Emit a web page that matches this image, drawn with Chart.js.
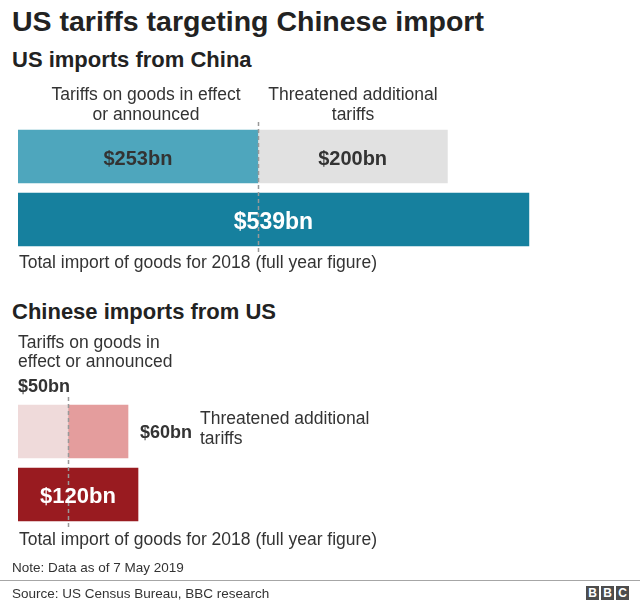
<!DOCTYPE html>
<html><head><meta charset="utf-8">
<script src="https://cdn.jsdelivr.net/npm/chart.js@4.4.1/dist/chart.umd.min.js"></script>
<style>
html,body{margin:0;padding:0;background:#fff;}
body{width:640px;height:607px;position:relative;overflow:hidden;font-family:'Liberation Sans',Arial,Helvetica,sans-serif;color:#333;}
.t{position:absolute;white-space:nowrap;line-height:1;z-index:2;}
canvas{position:absolute;left:0;z-index:1;}
.title{left:12px;top:7px;font-size:28.5px;font-weight:bold;color:#222;}
.sub{left:12px;font-size:22px;font-weight:bold;color:#222;}
.ann{font-size:17.5px;color:#333;}
.val{font-size:18px;font-weight:bold;color:#333;}
.small{font-size:13.5px;color:#333;left:12px;}
.rule{position:absolute;left:0;top:580px;width:640px;height:1px;background:#a6a6a6;}
.bbc{position:absolute;top:586px;width:13px;height:14px;background:#4d4d4d;color:#fff;font-weight:bold;font-size:12px;line-height:14px;text-align:center;}
</style></head>
<body>
<div class="t title">US tariffs targeting Chinese import</div>
<div class="t sub" style="top:49.4px">US imports from China</div>
<div class="t ann" style="left:26px;width:240px;text-align:center;top:85px;line-height:19.5px">Tariffs on goods in effect<br>or announced</div>
<div class="t ann" style="left:233px;width:240px;text-align:center;top:85px;line-height:19.5px">Threatened additional<br>tariffs</div>
<div class="t ann" style="left:19px;top:254px">Total import of goods for 2018 (full year figure)</div>

<div class="t sub" style="top:301.4px">Chinese imports from US</div>
<div class="t ann" style="left:18px;top:332.7px;line-height:19px">Tariffs on goods in<br>effect or announced</div>
<div class="t val" style="left:18px;top:376.5px">$50bn</div>
<div class="t val" style="left:140px;top:422.5px">$60bn</div>
<div class="t ann" style="left:200px;top:408px;line-height:20px">Threatened additional<br>tariffs</div>
<div class="t ann" style="left:19px;top:531px">Total import of goods for 2018 (full year figure)</div>

<div class="t small" style="top:561px">Note: Data as of 7 May 2019</div>
<div class="rule"></div>
<div class="t small" style="top:587px">Source: US Census Bureau, BBC research</div>
<div class="bbc" style="left:586px">B</div>
<div class="bbc" style="left:601px">B</div>
<div class="bbc" style="left:616px">C</div>

<canvas id="c1" width="640" height="145" style="top:115px"></canvas>
<canvas id="c2" width="640" height="145" style="top:390px"></canvas>

<script>
// ---- data ----
const rowLabels = ['Tariffs', 'Total import 2018'];
const usInEffect = [253, null];
const usThreatened = [200, null];
const usTotal = [null, 539];
const cnInEffect = [50, null];
const cnThreatened = [60, null];
const cnTotal = [null, 120];

const FONT = "'Liberation Sans', Arial, Helvetica, sans-serif";
const fmt = v => '$' + v + 'bn';

const barPlugin = {
  id: 'barDecor',
  afterDatasetsDraw(chart, args, opts) {
    const ctx = chart.ctx, x = chart.scales.x, area = chart.chartArea;
    const px = Math.round(x.getPixelForValue(opts.marker)) + 0.5;
    ctx.save();
    ctx.strokeStyle = '#999';
    ctx.lineWidth = 1.5;
    ctx.setLineDash([4, 3]);
    ctx.beginPath();
    ctx.moveTo(px, area.top - 3);
    ctx.lineTo(px, area.bottom + 1);
    ctx.stroke();
    ctx.setLineDash([]);
    chart.data.datasets.forEach((ds, i) => {
      const st = opts.styles[i];
      if (!st) return;
      const meta = chart.getDatasetMeta(i);
      meta.data.forEach((bar, j) => {
        const v = ds.data[j];
        if (v == null) return;
        ctx.font = 'bold ' + st.size + 'px ' + FONT;
        ctx.fillStyle = st.color;
        ctx.textAlign = 'center';
        ctx.textBaseline = 'alphabetic';
        ctx.fillText(fmt(v), (bar.x + bar.base) / 2, bar.y + st.size * 0.358 + 1);
      });
    });
    ctx.restore();
  }
};

function makeChart(id, sets, max, marker, styles) {
  return new Chart(document.getElementById(id), {
    type: 'bar',
    data: {
      labels: rowLabels,
      datasets: sets.map(s => ({
        label: s.label, data: s.data, backgroundColor: s.color,
        borderWidth: 0, barThickness: 53
      }))
    },
    options: {
      indexAxis: 'y',
      responsive: false,
      animation: false,
      devicePixelRatio: 1,
      layout: { padding: { left: 18, right: 22, top: 10, bottom: 9 } },
      scales: {
        x: { stacked: true, display: false, min: 0, max: max },
        y: { stacked: true, display: false }
      },
      plugins: {
        legend: { display: false },
        tooltip: { enabled: false },
        barDecor: { marker: marker, styles: styles }
      }
    },
    plugins: [barPlugin]
  });
}

makeChart('c1', [
  { label: 'Tariffs on goods in effect or announced', data: usInEffect, color: '#4ea6bd' },
  { label: 'Threatened additional tariffs', data: usThreatened, color: '#e1e1e1' },
  { label: 'Total import of goods for 2018', data: usTotal, color: '#16809e' }
], 633, usInEffect[0], [
  { size: 20, color: '#333' }, { size: 20, color: '#333' }, { size: 23, color: '#fff' }
]);

makeChart('c2', [
  { label: 'Tariffs on goods in effect or announced', data: cnInEffect, color: '#efdada' },
  { label: 'Threatened additional tariffs', data: cnThreatened, color: '#e49d9d' },
  { label: 'Total import of goods for 2018', data: cnTotal, color: '#991b20' }
], 600, cnInEffect[0], [
  null, null, { size: 22, color: '#fff' }
]);
</script>
</body></html>
